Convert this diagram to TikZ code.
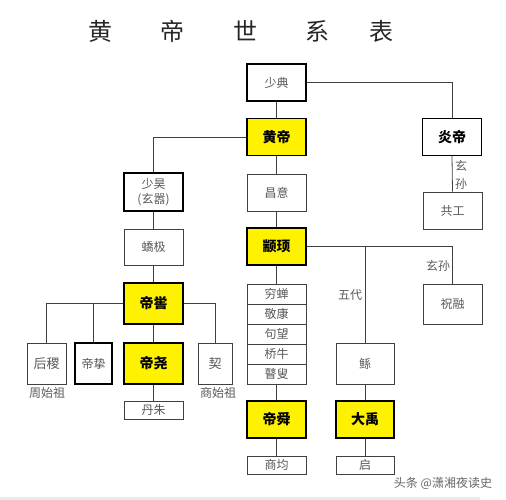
\documentclass[tikz,border=0pt]{standalone}
\usepackage{fontspec}
\setmainfont{Noto Sans CJK SC}
\begin{document}
\begin{tikzpicture}[x=1pt,y=-1pt,
  box/.style={draw=black!75, line width=0.8pt, fill=white, minimum width=59pt, minimum height=37pt, inner sep=0pt, font=\fontsize{12}{14}\selectfont, text=black!65, align=center},
  tbox/.style={box, draw=black, line width=1.3pt},
  hbox/.style={box, fill=yellow, draw=black, line width=1.4pt, text=black, font=\fontsize{14}{16}\selectfont\bfseries},
  row/.style={box, minimum height=20pt},
  lbl/.style={inner sep=0pt, font=\fontsize{12}{14}\selectfont, text=black!65},
  ttl/.style={inner sep=0pt, font=\fontsize{24}{26}\selectfont, text=black!85},
  conn/.style={draw=black!75, line width=0.8pt}]
\useasboundingbox (0,0) rectangle (506,500);
\fill[black!8] (0,497) rectangle (480,500);
% title
\node[ttl] (t1) at (100,31) {黄};
\node[ttl] (t2) at (172,31) {帝};
\node[ttl] (t3) at (245,31) {世};
\node[ttl] (t4) at (317,31) {系};
\node[ttl] (t5) at (381,31) {表};
% nodes
\node[tbox] (shaodian) at (276.5,82.5) {少典};
\node[hbox] (huangdi) at (276.5,137) {黄帝};
\node[tbox, text=black, font=\fontsize{14}{16}\selectfont\bfseries] (yandi) at (452,137) {炎帝};
\node[tbox, minimum height=38pt, font=\fontsize{12}{15}\selectfont] (shaohao) at (153.5,192) {少昊\\(玄嚣)};
\node[box, minimum height=36pt] (jiaoji) at (153.5,247) {蟜极};
\node[hbox, minimum height=41pt] (diku) at (153.5,303.5) {帝喾};
\node[box, minimum width=39pt, minimum height=41pt, font=\fontsize{13}{15}\selectfont] (houji) at (46.5,363.5) {后稷};
\node[tbox, minimum width=37pt, minimum height=41pt] (dizhi) at (93.5,363.5) {帝挚};
\node[hbox, minimum height=41pt] (diyao) at (153.5,363.5) {帝尧};
\node[box, minimum width=34pt, minimum height=41pt, font=\fontsize{13}{15}\selectfont] (xie) at (215,363.5) {契};
\node[box, minimum height=18pt] (danzhu) at (153.5,410) {丹朱};
\node[box] (changyi) at (276.5,192.5) {昌意};
\node[hbox] (zhuanxu) at (276.5,246.5) {颛顼};
\node[row] (qiongchan) at (276.5,294) {穷蝉};
\node[row] (jingkang) at (276.5,314) {敬康};
\node[row] (juwang) at (276.5,334) {句望};
\node[row] (qiaoniu) at (276.5,354) {桥牛};
\node[row] (gusou) at (276.5,374) {瞽叟};
\node[hbox] (dishun) at (276.5,419.5) {帝舜};
\node[box, minimum height=18pt] (shangjun) at (276.5,465) {商均};
\node[box, minimum width=58pt, minimum height=41pt] (gun) at (365,363.5) {鲧};
\node[hbox, minimum width=58pt] (dayu) at (365,419.5) {大禹};
\node[box, minimum width=58pt, minimum height=18pt] (qi) at (365,465) {启};
\node[box] (gonggong) at (452.5,210.5) {共工};
\node[box, minimum height=40pt] (zhurong) at (452.5,304) {祝融};
% labels
\node[lbl] (wudai) at (350,295) {五代};
\node[lbl] (xuansun) at (438,266) {玄孙};
\node[lbl] (xuan) at (461,166) {玄};
\node[lbl] (sun) at (461,184) {孙};
\node[lbl] (zhoushizu) at (47,393) {周始祖};
\node[lbl] (shangshizu) at (218,393) {商始祖};
\node[inner sep=0pt, font=\fontsize{12}{14}\selectfont, text=black!60] (wm) at (443,483) {头条 @潇湘夜读史};
% connectors
\begin{scope}[on background layer/.style={}]
\draw[conn] (shaodian.south) -- (huangdi.north);
\draw[conn] (shaodian.east) -| (yandi.north);
\draw[conn] (huangdi.west) -| (shaohao.north);
\draw[conn] (yandi.south) -- (gonggong.north);
\draw[conn] (shaohao.south) -- (jiaoji.north);
\draw[conn] (jiaoji.south) -- (diku.north);
\draw[conn] (diku.south) -- (diyao.north);
\draw[conn] (diku.west) -| (houji.north);
\draw[conn] (diku.west) -| (dizhi.north);
\draw[conn] (diku.east) -| (xie.north);
\draw[conn] (diyao.south) -- (danzhu.north);
\draw[conn] (huangdi.south) -- (changyi.north);
\draw[conn] (changyi.south) -- (zhuanxu.north);
\draw[conn] (zhuanxu.south) -- (qiongchan.north);
\draw[conn] (gusou.south) -- (dishun.north);
\draw[conn] (dishun.south) -- (shangjun.north);
\draw[conn] (zhuanxu.east) -| (zhurong.north);
\coordinate (gunjoin) at (zhuanxu.east -| gun.north);
\draw[conn] (gunjoin) -- (gun.north);
\draw[conn] (gun.south) -- (dayu.north);
\draw[conn] (dayu.south) -- (qi.north);
\end{scope}
\end{tikzpicture}
\end{document}
